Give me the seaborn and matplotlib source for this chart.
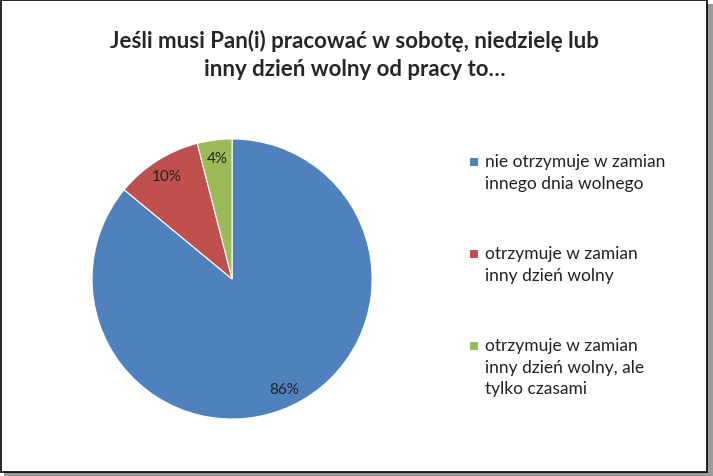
import matplotlib
matplotlib.use("Agg")
import matplotlib.pyplot as plt
import matplotlib.patches as mpatches
import seaborn as sns

sns.set_theme(style="white")

title = "Jeśli musi Pan(i) pracować w sobotę, niedzielę lub\ninny dzień wolny od pracy to…"
categories = ["nie otrzymuje w zamian\ninnego dnia wolnego",
              "otrzymuje w zamian\ninny dzień wolny",
              "otrzymuje w zamian\ninny dzień wolny, ale\ntylko czasami"]
shares = [86, 10, 4]
colors = ["#4f81bd", "#c0504d", "#9bbb59"]

fig = plt.figure(figsize=(7.13, 4.77), dpi=100)
fig.patch.set_facecolor("white")

# frame with a little shadow, like the office chart
fig.patches.append(mpatches.Rectangle((0.006, 0.0), 0.994, 0.99, transform=fig.transFigure,
                                      facecolor="#9a9a9a", edgecolor="none", zorder=-5))
fig.patches.append(mpatches.Rectangle((0.0015, 0.008), 0.99, 0.989, transform=fig.transFigure,
                                      facecolor="white", edgecolor="black", linewidth=1.2, zorder=-4))

ax = fig.add_axes([0.080, 0.046, 0.491, 0.734])
ax.set_zorder(2)
ax.patch.set_alpha(0)
wedges, texts, autotexts = ax.pie(shares, colors=colors, startangle=90, counterclock=False,
                                  autopct="%d%%", pctdistance=0.87,
                                  wedgeprops=dict(linewidth=0.8, edgecolor="white"),
                                  textprops=dict(fontsize=11, color="#222222", family="Lato"))
ax.set_aspect("equal")

fig.text(0.497, 0.885, title, ha="center", va="center", fontsize=16,
         fontweight="bold", family="Lato", linespacing=1.4)

# legend: square next to the first line of each label
legend_tops = [0.657, 0.464, 0.272]
for label, col, y in zip(categories, colors, legend_tops):
    fig.patches.append(mpatches.Rectangle((0.659, y - 0.008), 0.011, 0.017,
                                          transform=fig.transFigure, facecolor=col,
                                          edgecolor="none", zorder=3))
    fig.text(0.680, y + 0.02, label, ha="left", va="top", fontsize=12.5,
             family="Lato", color="#222222", linespacing=1.45)

fig.savefig("out.png", dpi=100)
